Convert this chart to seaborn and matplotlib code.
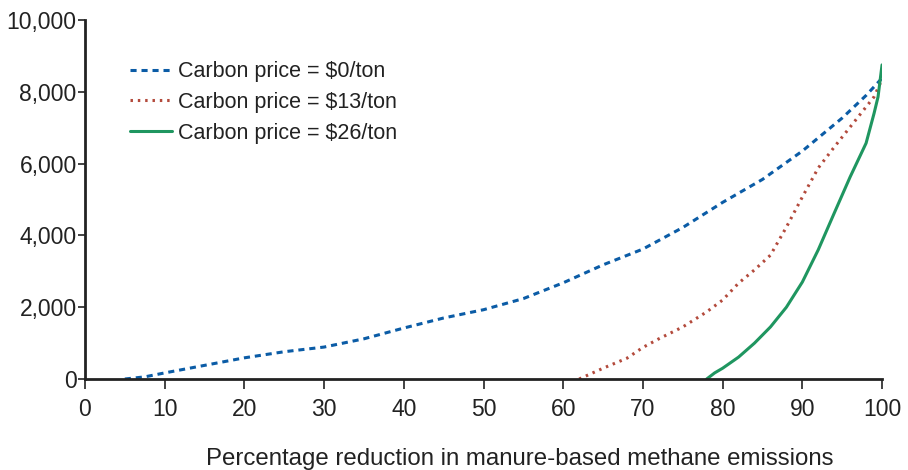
import matplotlib
matplotlib.use('Agg')
import matplotlib.pyplot as plt
import seaborn as sns
import pandas as pd

# Percentage reduction (x) vs cost (y), one pair of lists per carbon price
x_p0 = [5, 7.5, 10, 15, 20, 25, 30, 35, 40, 45, 50, 55, 60, 65, 70, 75, 80, 85, 90, 95, 98, 100]
y_p0 = [0, 60, 170, 380, 590, 760, 890, 1120, 1420, 1700, 1930, 2240, 2680, 3180, 3620, 4220, 4920, 5560, 6350, 7270, 7900, 8380]

x_p13 = [62, 63, 65, 68, 70, 72, 75, 78, 80, 82, 84, 86, 88, 90, 92, 94, 96, 98, 99, 100]
y_p13 = [0, 100, 300, 580, 880, 1120, 1450, 1870, 2200, 2670, 3040, 3450, 4230, 5070, 5880, 6460, 7020, 7580, 7860, 8350]

x_p26 = [78, 79, 80, 82, 84, 86, 88, 90, 92, 94, 96, 98, 99, 99.5, 100]
y_p26 = [0, 170, 300, 610, 1000, 1450, 2000, 2700, 3600, 4620, 5630, 6570, 7400, 7860, 8750]

labels = ['Carbon price = $0/ton', 'Carbon price = $13/ton', 'Carbon price = $26/ton']
colors = ['#0b5ca6', '#b34a3c', '#1f9660']

df = pd.concat([
    pd.DataFrame({'x': x_p0, 'y': y_p0, 'series': labels[0]}),
    pd.DataFrame({'x': x_p13, 'y': y_p13, 'series': labels[1]}),
    pd.DataFrame({'x': x_p26, 'y': y_p26, 'series': labels[2]}),
])

sns.set_style('ticks')
plt.rcParams['font.family'] = ['Liberation Sans', 'DejaVu Sans']

fig = plt.figure(figsize=(9.08, 4.70), dpi=100)
ax = fig.add_axes([0.0936, 0.1936, 0.8778, 0.7638])

styles = [(0, (2.0, 1.6)), (0, (0.8, 1.6)), '-']
for lab, col, ls in zip(labels, colors, styles):
    sns.lineplot(data=df[df['series'] == lab], x='x', y='y', ax=ax, color=col,
                 linestyle=ls, linewidth=2.2, label=lab, sort=False)

ax.set_xlim(0, 100)
ax.set_ylim(0, 10000)
ax.set_xticks(range(0, 101, 10))
ax.set_yticks(range(0, 10001, 2000))
ax.set_yticklabels([f'{v:,}' for v in range(0, 10001, 2000)])
ax.tick_params(axis='x', length=7, width=1.2, labelsize=16.5, pad=7, color='#222222', labelcolor='#222222')
ax.tick_params(axis='y', length=5, width=1.2, labelsize=16.5, pad=1, color='#222222', labelcolor='#222222')
for s in ['left', 'bottom']:
    ax.spines[s].set_linewidth(2)
    ax.spines[s].set_color('#222222')
sns.despine(ax=ax)

# label sits a bit right of the axis centre in the original
ax.set_xlabel('Percentage reduction in manure-based methane emissions', fontsize=17.3,
              labelpad=19, color='#222222', x=0.545)
ax.set_ylabel('')

leg = ax.legend(loc='upper left', bbox_to_anchor=(0.0565, 0.885), frameon=False,
                borderaxespad=0, borderpad=0,
                fontsize=15.5, handlelength=1.95, handletextpad=0.3, labelspacing=0.45)
for t in leg.get_texts():
    t.set_color('#222222')

fig.savefig('out.png', dpi=100)
